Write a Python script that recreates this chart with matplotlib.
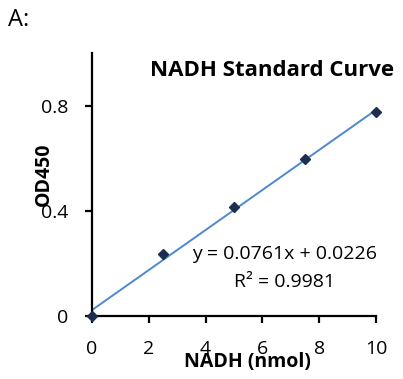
import matplotlib
matplotlib.use("Agg")
import matplotlib.pyplot as plt
import numpy as np

plt.rcParams['font.family'] = ['Open Sans', 'DejaVu Sans']

nadh = [0, 2.5, 5, 7.5, 10]
od450 = [0.0, 0.235, 0.415, 0.597, 0.774]
slope = 0.0761
intercept = 0.0226
r2 = 0.9981
xticks = [0, 2, 4, 6, 8, 10]
yticks = [0, 0.4, 0.8]
ytick_labels = ["0", "0.4", "0.8"]

fig = plt.figure(figsize=(4.03, 3.79), dpi=100)
ax = fig.add_axes([92/403, 1-316/379, (376-92)/403, (316-53)/379])

xfit = np.array([0, 10])
ax.plot(xfit, slope*xfit + intercept, color='#4F88D0', lw=1.4, zorder=2)
ax.plot(nadh, od450, linestyle='none', marker='D', markersize=5.5,
        color='#1B2E4F', markeredgecolor='#1B2E4F', zorder=3, clip_on=False)

ax.set_xlim(0, 10)
ax.set_ylim(0, 1.0)
ax.set_xticks(xticks)
ax.set_xticklabels([str(t) for t in xticks])
ax.set_yticks(yticks)
ax.set_yticklabels(ytick_labels)
for s in ['top', 'right']:
    ax.spines[s].set_visible(False)
for s in ['left', 'bottom']:
    ax.spines[s].set_linewidth(1.6)
ax.tick_params(axis='both', direction='out', length=5, width=1.6, labelsize=14)
ax.tick_params(axis='x', pad=12)
ax.tick_params(axis='y', pad=12)

fig.text(44/403, 1-174/379, 'OD450', rotation=90, ha='center', va='center',
         fontsize=14, fontweight='bold')
fig.text(247/403, 1-362/379, 'NADH (nmol)', ha='center', va='center',
         fontsize=14, fontweight='bold')
fig.text(272/403, 1-70/379, 'NADH Standard Curve', ha='center', va='center',
         fontsize=16, fontweight='bold')
fig.text(19/403, 1-20/379, 'A:', ha='center', va='center', fontsize=17)
fig.text(285/403, 1-254/379, 'y = %.4fx + %.4f' % (slope, intercept), ha='center', va='center',
         fontsize=14)
fig.text(285/403, 1-282/379, 'R² = %.4f' % r2, ha='center', va='center', fontsize=14)

fig.savefig('out.png', dpi=100)
